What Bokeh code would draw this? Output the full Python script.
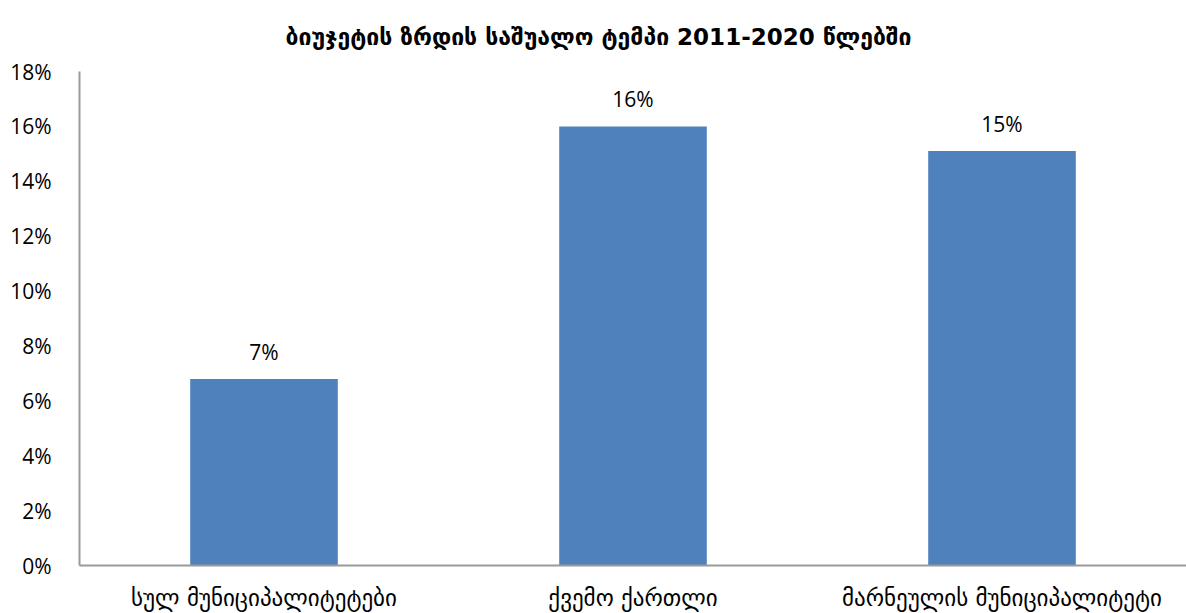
from bokeh.plotting import figure
from bokeh.models import ColumnDataSource, LabelSet, NumeralTickFormatter, FixedTicker, Title, Range1d
from bokeh.core.properties import value
from bokeh.embed import file_html
from bokeh.resources import INLINE

title_text = "ბიუჯეტის ზრდის საშუალო ტემპი 2011-2020 წლებში"
categories = ["სულ მუნიციპალიტეტები", "ქვემო ქართლი", "მარნეულის მუნიციპალიტეტი"]
values = [0.068, 0.160, 0.151]
labels = ["7%", "16%", "15%"]
y_ticks = [0, 0.02, 0.04, 0.06, 0.08, 0.10, 0.12, 0.14, 0.16, 0.18]

src = ColumnDataSource(dict(cat=categories, val=values, lab=labels))

p = figure(x_range=categories, width=1186, height=613, output_backend="svg",
           toolbar_location=None, min_border_left=79, min_border_right=0,
           min_border_top=71, min_border_bottom=48)
p.y_range = Range1d(0, 0.18)
p.x_range.range_padding = 0

p.vbar(x="cat", top="val", width=0.40, source=src, color="#4f81bd", line_color=None)

p.add_layout(LabelSet(x="cat", y="val", text="lab", source=src, text_align="center",
                      text_baseline="middle", y_offset=27, text_font=value("Open Sans"),
                      text_font_size="21px", text_color="#000000"))

t = Title(text=title_text, align="left", offset=206, text_font="DejaVu Sans", text_font_size="23px",
          text_font_style="bold", text_color="#000000", standoff=40, vertical_align="top")
p.add_layout(t, "above")

p.grid.visible = False
p.outline_line_color = None

p.yaxis.ticker = FixedTicker(ticks=y_ticks)
p.yaxis.formatter = NumeralTickFormatter(format="0%")
p.yaxis.major_tick_line_color = None
p.yaxis.minor_tick_line_color = None
p.yaxis.axis_line_color = "#9a9a9a"
p.yaxis.axis_line_width = 2
p.yaxis.major_label_text_font = "Open Sans"
p.yaxis.major_label_text_font_size = "21px"
p.yaxis.major_label_text_color = "#000000"
p.yaxis.major_label_standoff = 22

p.xaxis.major_tick_line_color = None
p.xaxis.minor_tick_line_color = None
p.xaxis.axis_line_color = "#9a9a9a"
p.xaxis.axis_line_width = 2
p.xaxis.major_label_text_font = "DejaVu Sans"
p.xaxis.major_label_text_font_size = "23px"
p.xaxis.major_label_text_color = "#000000"
p.xaxis.major_label_standoff = 13

open("out.html", "w").write(file_html(p, INLINE))
